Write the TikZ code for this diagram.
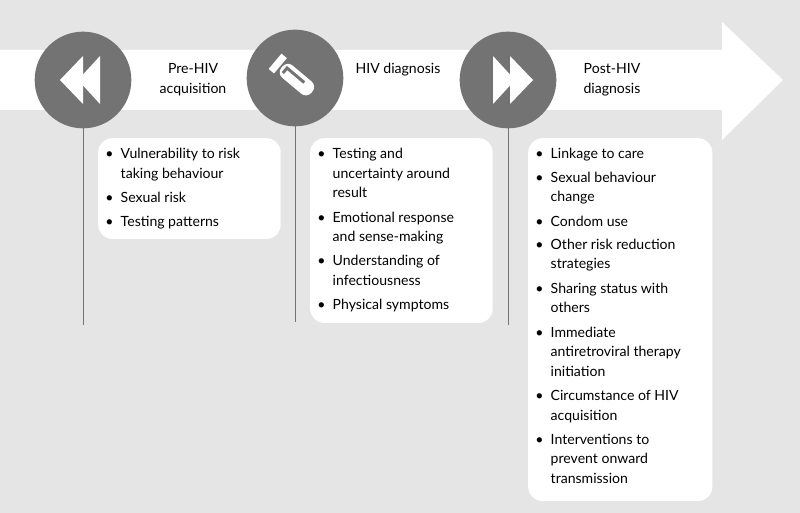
\documentclass[tikz,border=0pt]{standalone}
\usepackage{fontspec}
\setmainfont{Lato}
\newcommand{\itm}[1]{\par\noindent\strut\makebox[1.1em][l]{\textbullet}\parbox[t]{4.6cm}{\raggedright\strut #1\strut}\par\vspace{3.5pt}}
\newcommand{\bgcolor}{black!10!white}
\newcommand{\dotcolor}{black!55!white}
\begin{document}
\begin{tikzpicture}[x=0.03cm, y=-0.03cm,
    stage/.style={fill=\dotcolor, circle, minimum size=2.9cm, inner sep=0pt},
    card/.style={fill=white, rounded corners=12pt, anchor=north west, inner xsep=6pt, inner ysep=6pt, align=left, font=\fontsize{12}{16.5}\selectfont},
    title/.style={align=center, font=\fontsize{12}{17}\selectfont}]
    % background and band
    \fill[\bgcolor] (0,0) rectangle (800,513);
    \fill[white] (0,50) -- (722,50) -- (722,22) -- (783,80) -- (722,140) -- (722,110) -- (0,110) -- cycle;

    % timelines
    \draw[\dotcolor, line width=0.7pt] (83,80) -- (83,325);
    \draw[\dotcolor, line width=0.7pt] (295,80) -- (295,322);
    \draw[\dotcolor, line width=0.7pt] (508,80) -- (508,325);

    % circles
    \node[stage] (pre) at (83,80) {};
    \node[stage] (diag) at (295,78) {};
    \node[stage] (post) at (508,80) {};

    % icons
    \fill[white] (60,80) -- (83,56) -- (83,104) -- cycle;
    \fill[white] (78,80) -- (100,56) -- (100,104) -- cycle;
    \fill[white] (533,80) -- (510,56) -- (510,104) -- cycle;
    \fill[white] (515,80) -- (493,56) -- (493,104) -- cycle;
    \begin{scope}[shift={(295,78)}, rotate=-40]
        \fill[white] (-26,-10) rectangle (-19,10);
        \fill[white, rounded corners=6pt] (-17,-8) -- (22,-8) -- (22,8) -- (-17,8) -- cycle;
        \fill[\dotcolor] (-14,-4) -- (10,-4) -- (10,-1) -- (-11,-1) -- (-11,4) -- (-14,4) -- cycle;
    \end{scope}

    % labels
    \node[title] (preT) at (193,80) {Pre-HIV\\acquisition};
    \node[title] (diagT) at (398,70) {HIV diagnosis};
    \node[title] (postT) at (612,80) {Post-HIV\\diagnosis};

    % cards
    \node[card] (preC) at (98,138) {\begin{minipage}[t][2.6cm][t]{5.05cm}
        \itm{Vulnerability to risk\\taking behaviour}
        \itm{Sexual risk}
        \itm{Testing patterns}\end{minipage}};
    \node[card] (diagC) at (310,138) {\begin{minipage}[t][5.12cm][t]{5.05cm}
        \itm{Testing and\\uncertainty around\\result}
        \itm{Emotional response\\and sense-making}
        \itm{Understanding of\\infectiousness}
        \itm{Physical symptoms}\end{minipage}};
    \node[card] (postC) at (528,138) {\begin{minipage}[t][10.46cm][t]{5.1cm}
        \itm{Linkage to care}
        \itm{Sexual behaviour\\change}
        \itm{Condom use}
        \itm{Other risk reduction\\strategies}
        \itm{Sharing status with\\others}
        \itm{Immediate\\antiretroviral therapy\\initiation}
        \itm{Circumstance of HIV\\acquisition}
        \itm{Interventions to\\prevent onward\\transmission}\end{minipage}};
\end{tikzpicture}
\end{document}
